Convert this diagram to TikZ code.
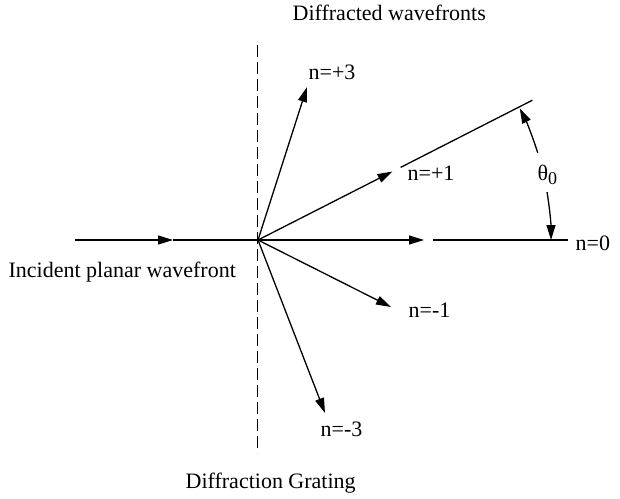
\documentclass[tikz,border=0pt]{standalone}
\usepackage{fontspec}
\setmainfont{Liberation Serif}
\usetikzlibrary{arrows.meta,calc}
\begin{document}
\begin{tikzpicture}[x=1pt,y=-1pt,line width=1.3pt,
  lbl/.style={anchor=base west,inner sep=0pt,font=\fontsize{22}{26}\selectfont},
  ray/.style={-{Triangle[length=15pt,width=9pt]}},
  grating/.style={line width=1.1pt,dash pattern=on 12pt off 5pt}]
\useasboundingbox (0,0) rectangle (620,498);
% key points
\coordinate (O) at (258,240);
\coordinate (G1) at (257.5,45);
\coordinate (G2) at (257.5,453);
\coordinate (A) at (75,240);
\coordinate (M) at (173,240);
\coordinate (T0) at (424,240);
\coordinate (R0a) at (433,240);
\coordinate (R0b) at (568,240);
\coordinate (T1) at (392.5,171.5);
\coordinate (R1a) at (400.6,167.4);
\coordinate (R1b) at (532.4,100.2);
\coordinate (T3) at (307,87);
\coordinate (Tm1) at (391,307);
\coordinate (Tm3) at (325,413);
% grating
\draw[grating] (G1) -- (G2);
% incident
\draw[ray] (A) -- (M);
\draw (M) -- (O);
% diffracted
\draw[ray] (O) -- (T0);
\draw (R0a) -- (R0b);
\draw[ray] (O) -- (T1);
\draw (R1a) -- (R1b);
\draw[ray] (O) -- (T3);
\draw[ray] (O) -- (Tm1);
\draw[ray] (O) -- (Tm3);
% angle
\draw[ray] ($(O)+(-17.3:293)$) arc[start angle=-17.3,end angle=-26.7,radius=293];
\draw[ray] ($(O)+(-9.4:293)$) arc[start angle=-9.4,end angle=0,radius=293];
% labels
\node[lbl] (ldw) at (292,20) {Diffracted wavefronts};
\node[lbl] (lp3) at (308,79) {n=+3};
\node[lbl] (lp1) at (407,180) {n=+1};
\node[lbl] (lth) at (537,180) {θ\raisebox{-4pt}{\fontsize{18}{18}\selectfont 0}};
\node[lbl] (ln0) at (575,250) {n=0};
\node[lbl] (linc) at (8,277) {Incident planar wavefront};
\node[lbl] (lm1) at (408,317) {n=-1};
\node[lbl] (lm3) at (320,436) {n=-3};
\node[lbl] (ldg) at (185,488) {Diffraction Grating};
\end{tikzpicture}
\end{document}
